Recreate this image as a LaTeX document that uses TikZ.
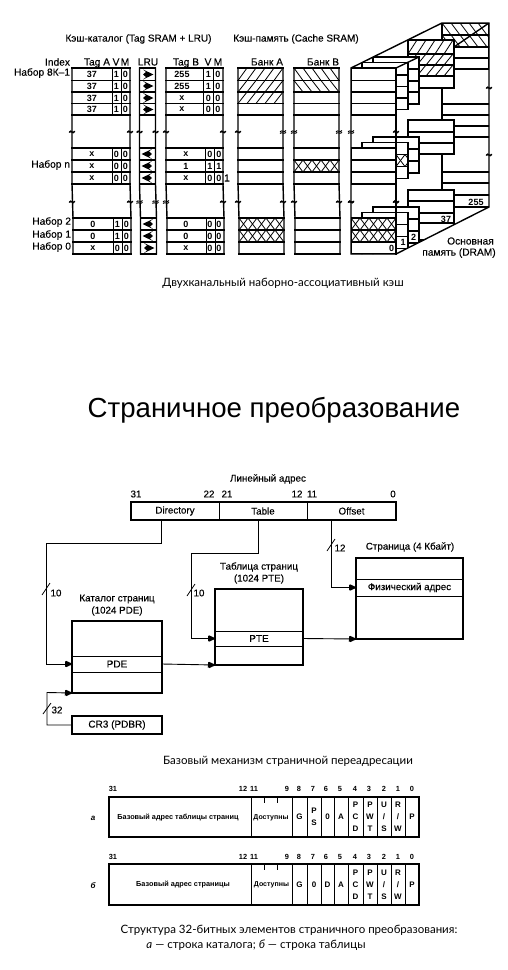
\documentclass[tikz,border=0pt]{standalone}
\usepackage{fontspec}
\setmainfont{Liberation Sans}
\newfontfamily\capfont{Lato}
\newfontfamily\semif{Liberation Sans}[FakeBold=0.2]
\usetikzlibrary{arrows.meta,calc}
\newcount\txtnum
\newcommand\fsz[1]{\fontsize{#1}{#1}\selectfont}
\tikzset{
  lbl/.style={inner sep=0,outer sep=0,font=\semif\fsz{10.2}},
  dig/.style={inner sep=0,outer sep=0,font=\fsz{9}\bfseries},
  titl/.style={inner sep=0,outer sep=0,font=\semif\fsz{10}},
  rr/.style={lbl,anchor=east},
  capt/.style={inner sep=0,outer sep=0,font=\capfont\fsz{11.5}},
  rowl/.style={line width=1.4pt,line cap=rect},
  thinl/.style={line width=.9pt},
  hat/.style={line width=.8pt},
  brk/.style={line width=1.5pt,line cap=round},
  conn/.style={line width=.9pt,arrows={-Latex[length=7pt,width=6pt]}},
  tipm/.style={fill=black},
  tickm/.style={line width=.8pt},
  fld/.style={draw,line width=1pt,inner sep=0,outer sep=0,font=\semif\fsz{9.8}},
  tbl/.style={draw,line width=1.5pt,inner sep=0,outer sep=0,fill=white},
  rowbox/.style={draw,line width=.9pt,inner sep=0,outer sep=0,fill=white,font=\semif\fsz{10}},
  numl/.style={inner sep=0,outer sep=0,font=\semif\fsz{9.8}},
  smallt/.style={inner sep=0,outer sep=0,font=\fsz{7.3}\bfseries},
  bitc/.style={draw,line width=.9pt,inner sep=0,outer sep=0,align=center,font=\fsz{8}\bfseries},
  bitn/.style={inner sep=0,outer sep=0,font=\fsz{7.4}\bfseries},
}
\newcommand\TX[4][lbl]{\global\advance\txtnum by 1 \node[#1] (t\the\txtnum) at (#2,#3) {#4};}
% box node from corners: name, x1,y1,x2,y2, style, text
\newcommand\BX[7]{\node[#6,minimum width={(#4-#2)*1pt},minimum height={(#5-#3)*1pt},anchor=center] (#1) at ({(#2+#4)/2},{(#3+#5)/2}) {#7};}
\newcommand\brkA[2]{\draw[brk] (#1-2.5,#2+.2) .. controls (#1-1,#2-3) and (#1+.8,#2+3) .. (#1+2.6,#2-.6);}
\newcommand\brkB[2]{\draw[line width=.9pt] (#1-3,#2-.3) .. controls (#1-1.5,#2-2.5) and (#1+1.5,#2+1) .. (#1+3,#2-1.5)
   (#1-3,#2+1.5) .. controls (#1-1.5,#2-.7) and (#1+1.5,#2+2.8) .. (#1+3,#2+.3);}
% hatch: x1 y1 x2 y2, 1 = slash, -1 = backslash
\newcommand\hatch[5]{\begin{scope}\clip (#1,#2) rectangle (#3,#4);
  \foreach \k in {-27,-18,...,72}{
   \ifnum#5=1 \draw[hat] (#1+\k,#4)--(#1+\k+9,#2);\else \draw[hat] (#1+\k,#2)--(#1+\k+9,#4);\fi}
  \end{scope}}
\newcommand\xhatch[4]{\hatch{#1}{#2}{#3}{#4}{1}\hatch{#1}{#2}{#3}{#4}{-1}}
\newcommand\frameT[2]{%
  \foreach \y in {68,80.5,92,103.5,115,148,160,172,184}{\draw[rowl] (#1,\y)--(#2,\y);}
  \foreach \y in {218,230,242,254}{\draw[rowl] (#1+1,\y)--(#2+1,\y);}
  \draw[rowl] (#1,68)--(#1,184)--(#1+1,218)--(#1+1,254);
  \draw[rowl] (#2,68)--(#2,184)--(#2+1,218)--(#2+1,254);}
\newcommand\divs[2]{\draw[thinl] (#1,68)--(#1,115) (#2,148)--(#2,184) (#2+1,218)--(#2+1,254);}
\newcommand\lruR[2]{\fill (#1-4.5,#2-5)--(#1+6,#2)--(#1-4.5,#2+5)--(#1-1.5,#2+2.6)--(#1-4.5,#2)--(#1-1.5,#2-2.6)--cycle;}
\newcommand\lruL[2]{\fill (#1+4.5,#2-5)--(#1-6,#2)--(#1+4.5,#2+5)--(#1+1.5,#2+2.6)--(#1+4.5,#2)--(#1+1.5,#2-2.6)--cycle;}
% right-pointing head ending at a named point
\newcommand\headR[1]{\fill[tipm] ($(#1)+(1,0)$)--($(#1)+(-6,-3.2)$)--($(#1)+(-6,3.2)$)--cycle;}
% stack block: x1 x2 y-first y-last, inner rows
\newcommand\blk[5]{\filldraw[fill=white,rowl] (#1,#3) rectangle (#2,#4);
  \foreach \y in {#5}{\draw[rowl] (#1,\y)--(#2,\y);}}
\begin{document}
\begin{tikzpicture}[x=1pt,y=-1pt]
\useasboundingbox (0,0) rectangle (508,970);
% ---------- cache ----------
\TX[titl]{138.5}{39}{Кэш-каталог (Tag SRAM + LRU)}
\TX[titl]{296}{39}{Кэш-память (Cache SRAM)}
\TX[rr]{70}{62}{Index}
\TX{97}{63}{Tag A}\TX{116}{62}{V}\TX{125}{62}{M}
\TX{148}{62}{LRU}
\TX{186}{63}{Tag B}\TX{208}{62}{V}\TX{218}{62}{M}
\TX{267}{62}{Банк А}\TX{323}{62}{Банк В}
\TX[rr]{70}{73}{Набор 8К–1}\TX[rr]{70}{165}{Набор n}
\TX[rr]{71}{222}{Набор 2}\TX[rr]{71}{235}{Набор 1}\TX[rr]{71}{247}{Набор 0}
% hatches in banks
\foreach \a/\b in {68/80.5,80.5/92,92/103.5}{\hatch{238}{\a}{283}{\b}{1}}
\foreach \a/\b in {68/80.5,80.5/92}{\hatch{294}{\a}{339}{\b}{-1}}
\xhatch{294}{160}{339}{172}
\xhatch{239}{218}{284}{230}\xhatch{239}{230}{284}{242}
% frames
\frameT{72}{130}\frameT{139.5}{155.5}\frameT{166}{223}\frameT{238}{283}\frameT{294}{339}
\divs{112}{112}\divs{121}{121}\divs{203.5}{205}\divs{213}{214}
% table contents
\foreach \y/\a/\b/\c in {74.5/37/1/0,86/37/1/0,98/37/1/0,109/37/1/0,154/x/0/0,166/x/0/0,178/x/0/0}{
  \TX[dig]{92}{\y}{\a}\TX[dig]{116.5}{\y}{\b}\TX[dig]{125.5}{\y}{\c}}
\foreach \y/\a/\b/\c in {224/0/1/0,236/0/1/0,248/x/0/0}{
  \TX[dig]{93}{\y}{\a}\TX[dig]{117.5}{\y}{\b}\TX[dig]{126.5}{\y}{\c}}
\foreach \y/\a/\b/\c in {74.5/255/1/0,86/255/1/0,98/x/0/0,109/x/0/0}{
  \TX[dig]{182}{\y}{\a}\TX[dig]{208.5}{\y}{\b}\TX[dig]{218}{\y}{\c}}
\foreach \y/\a/\b/\c in {154/x/0/0,166/1/1/1,178/x/0/0,224/0/0/0,236/0/0/0,248/x/0/0}{
  \TX[dig]{186}{\y}{\a}\TX[dig]{210}{\y}{\b}\TX[dig]{219}{\y}{\c}}
\TX{227}{178}{1}
\foreach \y in {74.5,86,98,109.5}{\lruR{147.5}{\y}}
\foreach \y in {154,166,178}{\lruL{147.5}{\y}}
\foreach \y in {224,236}{\lruL{148.5}{\y}}
\lruR{148.5}{248}
% breaks
\foreach \x in {72,130,139.5,155.5,166,223,238}{\brkA{\x}{132}}
\foreach \x in {283,294,339,351}{\brkB{\x}{132}}
\foreach \x in {72,130,223,238,283,294,339,351,396}{\brkA{\x}{202}}
\foreach \x in {139.5,155.5,166}{\brkB{\x}{202}}
% ---------- 3D stack ----------
\begin{scope}
\clip (351,68)--(442,23)--(489,23)--(489,207)--(396,254)--(351,254)--cycle;
% page 255
\draw[rowl] (442,23)--(442,190);
\blk{442}{489}{23}{69}{35,47,58}
\hatch{442}{23}{489}{35}{-1}\hatch{442}{35}{489}{47}{-1}
\draw[rowl] (442,23)--(489,23) (442,35)--(489,35) (442,47)--(489,47);
\foreach \y in {104,115,126,137,172,183,195,207}{\draw[rowl] (442,\y)--(489,\y);}
% page 37
\blk{408}{454}{40}{88}{54,65,76}
\hatch{408}{40}{454}{54}{1}\hatch{408}{54}{454}{65}{1}\hatch{408}{65}{454}{76}{1}
\draw[rowl] (408,40)--(454,40) (408,54)--(454,54) (408,65)--(454,65) (408,76)--(454,76) (454,40)--(454,88);
\draw[rowl] (454,47)--(489,23);
\blk{408}{454}{120}{154}{132,143}
\blk{408}{454}{190}{240}{201,213,223}
% layer 3
\blk{373}{419}{57}{104}{69,81,92}
\blk{373}{419}{137}{173}{149,161}
\blk{373}{419}{207}{256}{219,231,243}
% layer 2
\blk{362}{408}{62.6}{109.5}{75,86.5,98}
\blk{362}{408}{142.5}{178.5}{154.5,166.5}
\xhatch{396}{154.5}{408}{166.5}
\draw[rowl] (396,154.5) rectangle (408,166.5);
\blk{362}{408}{212.5}{256}{224.5,236.5,248.5}
% front
\blk{351}{396}{68}{115}{80.5,92,103.5}
\blk{351}{396}{148}{184}{160,172}
\blk{351}{396}{218}{254}{230,242}
\xhatch{351}{218}{396}{230}\xhatch{351}{230}{396}{242}
\foreach \y in {218,230,242}{\draw[rowl] (351,\y)--(396,\y);}
\end{scope}
\draw[rowl] (351,68)--(442,23)--(489,23)--(489,207)--(396,254)--(351,254)--cycle;
\draw[rowl] (396,68)--(419,57);
\draw[rowl] (396,68)--(396,254);
\foreach \y in {132,202}{\brkA{396}{\y}}
\brkA{351}{202}
\foreach \y in {88,155}{\brkA{489}{\y}}
\TX[dig]{391.5}{248}{0}\TX[dig]{403}{242}{1}\TX[dig]{413.5}{237}{2}
\TX[dig]{446}{219}{37}\TX[dig]{476}{202}{255}
\TX{470.5}{241}{Основная}\TX{459}{253}{память (DRAM)}
\TX[capt]{283}{283}{Двухканальный наборно-ассоциативный кэш}
% ---------- heading ----------
\TX[inner sep=0,font=\fsz{27.6}]{274}{410}{Страничное преобразование}
% ---------- paging ----------
\TX[numl]{268}{479}{Линейный адрес}
\foreach \x/\t in {136/31,209/22,227/21,297/12,312/11,393/0}{\TX[numl]{\x}{494}{\t}}
\BX{dir}{131}{502}{219}{520}{fld}{Directory}
\BX{tab}{219}{502}{307}{520}{fld}{Table}
\BX{off}{307}{502}{396}{520}{fld}{Offset}
\draw[line width=1.5pt] (131,502) rectangle (396,520);
\TX[numl]{117}{599}{Каталог страниц}\TX[numl]{117}{611}{(1024 PDE)}
\BX{pde}{72}{621}{162}{693}{tbl}{}
\BX{pdeRow}{72}{656}{162}{672}{rowbox}{PDE}
\draw[line width=1.5pt] (pde.south west) rectangle (pde.north east);
\BX{cr}{72}{716}{162}{734}{tbl,font=\semif\fsz{10}}{CR3 (PDBR)}
\TX[numl]{259}{567}{Таблица страниц}\TX[numl]{259}{579}{(1024 PTE)}
\BX{pte}{215}{589}{303}{665}{tbl}{}
\BX{pteRow}{215}{631}{303}{646}{rowbox}{PTE}
\draw[line width=1.5pt] (pte.south west) rectangle (pte.north east);
\TX[numl]{410}{547}{Страница (4 Кбайт)}
\BX{page}{356}{558}{463}{639}{tbl}{}
\BX{phys}{356}{579}{463}{596}{rowbox,font=\semif\fsz{9.8}}{Физический адрес}
\draw[line width=1.5pt] (page.south west) rectangle (page.north east);
\coordinate (dirOut) at (161,520);
\coordinate (tabOut) at (258,520);
\coordinate (offOut) at (331,520);
\draw[conn] (dirOut)--(161,543)--(46,543)--(46,664)--(pdeRow.west);
\draw[conn] (tabOut)--(258,553)--(191,553)--(191,638.5)--(pteRow.west);
\draw[conn] (offOut)--(331,587.5)--(phys.west);
\draw[conn] (cr.west)--(47,725)--(47,692.5)--(pde.south west);
\draw[conn] (pdeRow.east)--(pte.south west);
\draw[conn] (pteRow.east)--(page.south west);
\headR{pdeRow.west}\headR{pteRow.west}\headR{phys.west}\headR{pde.south west}\headR{pte.south west}\headR{page.south west}
\draw[tickm] (42,595)--(50,583) (187,596)--(195,584) (327,551)--(335,539) (43,714)--(51,703);
\TX[numl]{56}{593}{10}\TX[numl]{199}{593}{10}\TX[numl]{340}{548}{12}\TX[numl]{57}{710}{32}
\TX[capt]{288}{761}{Базовый механизм страничной переадресации}
% ---------- bit structure ----------
\foreach \x/\t in {113/31,243/12,254/11,287/9,299/8,313/7,326/6,340/5,355/4,369/3,384/2,398/1,412/0}{
  \TX[bitn]{\x}{789}{\t}\TX[bitn]{\x}{857}{\t}}
\TX[inner sep=0,font=\fsz{8}\bfseries\itshape]{93}{818}{а}
\TX[inner sep=0,font=\fsz{8}\bfseries\itshape]{93}{886}{б}
\BX{ra}{109}{797}{419}{837}{draw,line width=1.3pt,inner sep=0}{}
\BX{rb}{109}{864}{419}{905}{draw,line width=1.3pt,inner sep=0}{}
\TX[smallt]{178}{818}{Базовый адрес таблицы страниц}
\TX[smallt]{183}{885}{Базовый адрес страницы}
\TX[smallt,font=\fsz{7}\bfseries]{271}{818}{Доступны}\TX[smallt,font=\fsz{7}\bfseries]{271.5}{885}{Доступны}
\foreach \a/\b/\i in {251/292/0}{
  \draw[thinl] (\a,797)--(\a,837) (\a,864)--(\a,905) (\b,797)--(\b,837) (\b,864)--(\b,905);}
\draw[thinl] (264,797)--(264,803) (277,797)--(277,803) (264,864)--(264,870) (277,864)--(277,870);
\foreach \a/\b/\n/\t/\u in {
  292/307/1/G/G,307/321/2/{P\\S}/0,321/334/3/0/D,334/348/4/A/A,348/363/5/{P\\C\\D}/{P\\C\\D},
  363/377/6/{P\\W\\T}/{P\\W\\T},377/391/7/{U\\/\\S}/{U\\/\\S},391/405/8/{R\\/\\W}/{R\\/\\W},405/419/9/P/P}{
  \BX{ca\n}{\a}{797}{\b}{837}{bitc,execute at begin node={\baselineskip=12pt}}{\t}
  \BX{cb\n}{\a}{864}{\b}{905}{bitc,execute at begin node={\baselineskip=12pt}}{\u}
}
\draw[line width=1.3pt] (ra.south west) rectangle (ra.north east) (rb.south west) rectangle (rb.north east);
\TX[capt]{289}{930}{Структура 32-битных элементов страничного преобразования:}
\TX[capt]{256}{945}{{\itshape а} — строка каталога; {\itshape б} — строка таблицы}
\end{tikzpicture}
\end{document}
